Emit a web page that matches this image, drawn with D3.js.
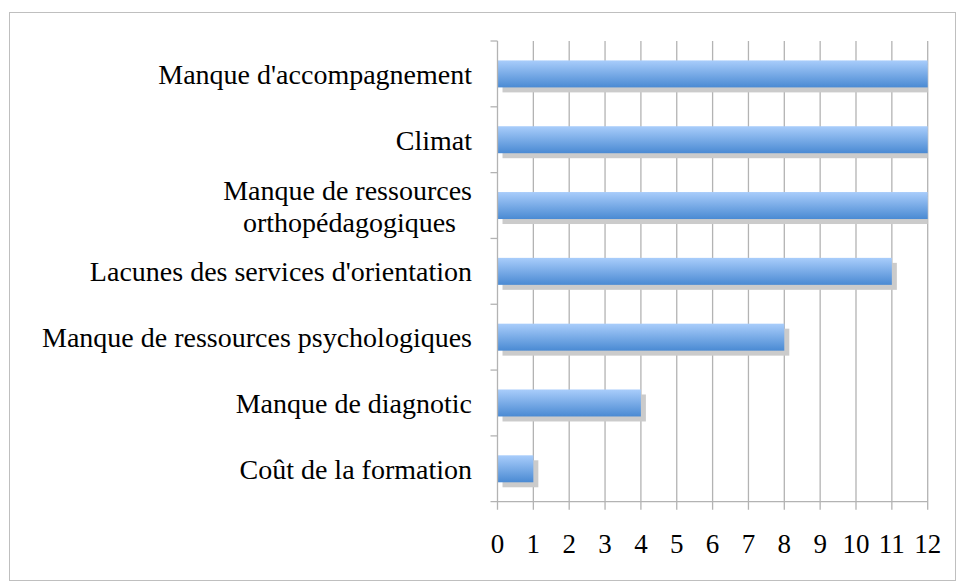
<!DOCTYPE html>
<html>
<head>
<meta charset="utf-8">
<script src="https://cdn.jsdelivr.net/npm/d3@7"></script>
<style>
  body { margin: 0; background: #fff; }
  svg text { font-family: "Liberation Serif", "DejaVu Serif", serif; fill: #000; }
</style>
</head>
<body>
<svg id="chart" width="957" height="581"></svg>
<script>
// categories (top to bottom) and their counts
const categories = [
  "Manque d'accompagnement",
  "Climat",
  "Manque de ressources orthopédagogiques",
  "Lacunes des services d'orientation",
  "Manque de ressources psychologiques",
  "Manque de diagnotic",
  "Coût de la formation"
];
const labelLines = [
  ["Manque d'accompagnement"],
  ["Climat"],
  ["Manque de ressources", "orthopédagogiques"],
  ["Lacunes des services d'orientation"],
  ["Manque de ressources psychologiques"],
  ["Manque de diagnotic"],
  ["Coût de la formation"]
];
const values = [12, 12, 12, 11, 8, 4, 1];
const xTicks = [0, 1, 2, 3, 4, 5, 6, 7, 8, 9, 10, 11, 12];

const svg = d3.select("#chart");
const pLeft = 497.5, pRight = 927.7, pTop = 41, pBottom = 501.7;

// cadre
svg.append("rect")
  .attr("x", 9.5).attr("y", 12.5)
  .attr("width", 946).attr("height", 568)
  .attr("fill", "none").attr("stroke", "#bfbfbf").attr("stroke-width", 1);

const x = d3.scaleLinear().domain([0, 12]).range([pLeft, pRight]);
const y = d3.scaleBand().domain(categories).range([pTop, pBottom]).paddingInner(0.59).paddingOuter(0.295);

// degradé des barres
const grad = svg.append("defs").append("linearGradient")
  .attr("id", "barGrad").attr("x1", 0).attr("y1", 0).attr("x2", 0).attr("y2", 1);
grad.append("stop").attr("offset", "0%").attr("stop-color", "#a9cdfb");
grad.append("stop").attr("offset", "100%").attr("stop-color", "#4a8ad3");

// lignes de la grille
svg.append("g").selectAll("line")
  .data(xTicks.slice(1))
  .enter().append("line")
  .attr("x1", d => x(d)).attr("x2", d => x(d))
  .attr("y1", pTop).attr("y2", pBottom + 8)
  .attr("stroke", "#b3b3b3").attr("stroke-width", 1.3);

// axe x
svg.append("line")
  .attr("x1", pLeft - 7).attr("x2", pRight)
  .attr("y1", pBottom).attr("y2", pBottom)
  .attr("stroke", "#b3b3b3").attr("stroke-width", 1.3);

svg.append("g").selectAll("text")
  .data(xTicks)
  .enter().append("text")
  .attr("x", d => x(d)).attr("y", 553)
  .attr("text-anchor", "middle")
  .attr("font-size", 27)
  .text(d => d);

// ombres
svg.append("clipPath").attr("id", "plotClip").append("rect")
  .attr("x", pLeft).attr("y", 0).attr("width", pRight - pLeft).attr("height", 581);

svg.append("g").attr("clip-path", "url(#plotClip)").selectAll("rect")
  .data(values)
  .enter().append("rect")
  .attr("x", x(0) + 5)
  .attr("y", (d, i) => y(categories[i]) + 5)
  .attr("width", d => x(d) - x(0))
  .attr("height", y.bandwidth())
  .attr("fill", "#cbcbcb");

// barres
svg.append("g").selectAll("rect")
  .data(values)
  .enter().append("rect")
  .attr("x", x(0))
  .attr("y", (d, i) => y(categories[i]))
  .attr("width", d => x(d) - x(0))
  .attr("height", y.bandwidth())
  .attr("fill", "url(#barGrad)");

// axe y
svg.append("line")
  .attr("x1", pLeft).attr("x2", pLeft)
  .attr("y1", pTop).attr("y2", pBottom + 8)
  .attr("stroke", "#b3b3b3").attr("stroke-width", 1.3);

const step = (pBottom - pTop) / categories.length;
svg.append("g").selectAll("line")
  .data(d3.range(categories.length))
  .enter().append("line")
  .attr("x1", pLeft - 7).attr("x2", pLeft)
  .attr("y1", i => pTop + i * step).attr("y2", i => pTop + i * step)
  .attr("stroke", "#b3b3b3").attr("stroke-width", 1.3);

// étiquettes
const labels = svg.append("g").selectAll("text")
  .data(labelLines)
  .enter().append("text")
  .attr("text-anchor", "end")
  .attr("font-size", 28);

labels.each(function (lines, i) {
  const cy = y(categories[i]) + y.bandwidth() / 2;
  const lh = 32;
  const y0 = cy - (lines.length - 1) * lh / 2 + 10;
  lines.forEach((l, j) => {
    d3.select(this).append("tspan")
      .attr("x", j === 0 ? 472 : 456)
      .attr("y", y0 + j * lh)
      .text(l);
  });
});
</script>
</body>
</html>
